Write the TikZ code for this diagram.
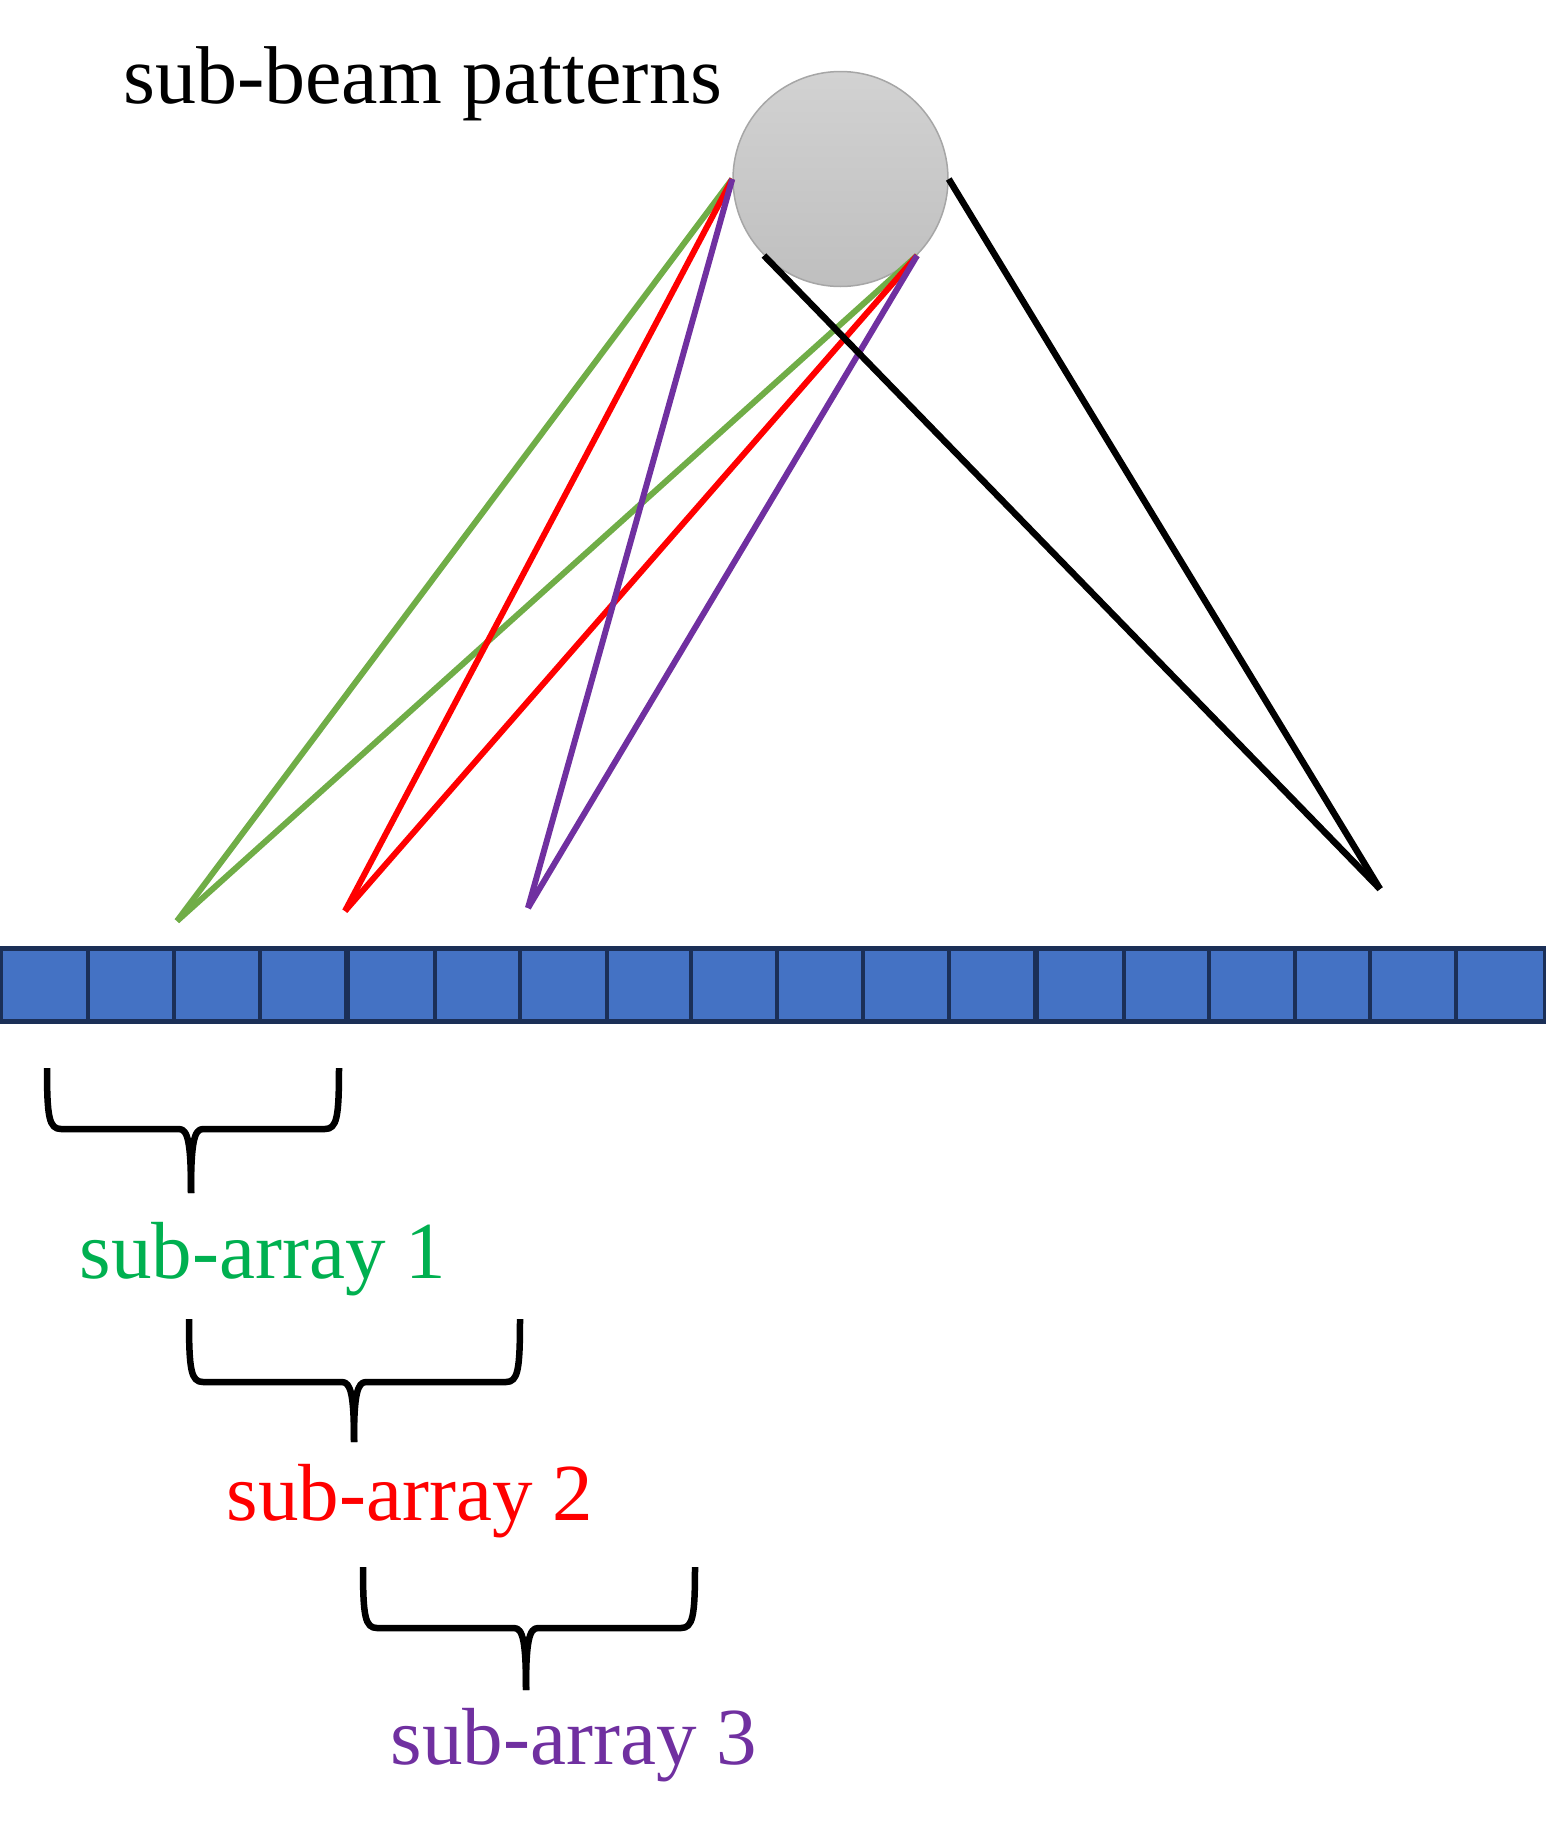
\documentclass[tikz,border=0pt]{standalone}
\usepackage{fontspec}
\setmainfont{Liberation Serif}
\definecolor{cellfill}{HTML}{4472C4}
\definecolor{celledge}{HTML}{1B2F57}
\definecolor{sgreen}{HTML}{70AD47}
\definecolor{tgreen}{HTML}{00B050}
\definecolor{spurple}{HTML}{7030A0}
\definecolor{circedge}{HTML}{A6A6A6}
\definecolor{circtop}{HTML}{D2D2D2}
\definecolor{circbot}{HTML}{BFBFBF}
\tikzset{
  beamline/.style={line width=6pt},
  blackline/.style={line width=6.5pt, black},
  bracepath/.style={line width=6.5pt, black, line join=round},
  label/.style={inner sep=0pt, anchor=base, font=\fontsize{81}{97}\selectfont},
}
\newcommand{\mybrace}[6]{% L R C top h tip
  \draw[bracepath] (#1,#4) .. controls (#1,#5-12) and (#1+2,#5) .. (#1+14,#5)
    -- (#3-12,#5) .. controls (#3-3,#5) and (#3,#5+14) .. (#3,#6);
  \draw[bracepath] (#3,#6) .. controls (#3,#5+14) and (#3+3,#5) .. (#3+12,#5)
    -- (#2-14,#5) .. controls (#2-2,#5) and (#2,#5-12) .. (#2,#4);
}
\begin{document}
\begin{tikzpicture}[x=1pt,y=-1pt]
\useasboundingbox (0,0) rectangle (1545,1834);
% array bar
\draw[fill=cellfill, draw=celledge, line width=5pt] (0,948) rectangle (1545,1021);
\foreach \xx in {88,174,260,435,520,607,691,777,863,949,1124,1209,1295,1370,1456}
  \draw[celledge, line width=3.2pt] (\xx,948) -- (\xx,1021);
\foreach \xx in {347,1036}
  \draw[celledge, line width=6pt] (\xx,948) -- (\xx,1021);
% sphere
\node[circle, inner sep=0pt, minimum size=215pt, top color=circtop, bottom color=circbot,
      draw=circedge, line width=1.5pt] (beam) at (840.5,179) {};
% endpoints
\coordinate (g) at (177,921);
\coordinate (r) at (345,911);
\coordinate (p) at (528,908);
\coordinate (k) at (1380,889);
% lines
\draw[beamline, sgreen] (beam.west) -- (g);
\draw[beamline, sgreen] (beam.south east) -- (g);
\draw[beamline, red] (beam.west) -- (r);
\draw[beamline, red] (beam.south east) -- (r);
\draw[beamline, spurple] (beam.west) -- (p);
\draw[beamline, spurple] (beam.south east) -- (p);
\draw[blackline] (beam.south west) -- (k);
\draw[blackline] (beam.east) -- (k);
% texts
\node[label, anchor=base west, font=\fontsize{82}{98}\selectfont] (title) at (123,103) {sub-beam patterns};
\node[label, text=tgreen] (s1) at (263,1278) {sub-array 1};
\node[label, text=red] (s2) at (410,1520) {sub-array 2};
\node[label, text=spurple] (s3) at (574,1764) {sub-array 3};
% braces
\mybrace{47}{339}{191}{1068}{1129}{1193}
\mybrace{189}{520}{354}{1319}{1382}{1442}
\mybrace{363}{695}{526}{1567}{1628}{1690}
\end{tikzpicture}
\end{document}
